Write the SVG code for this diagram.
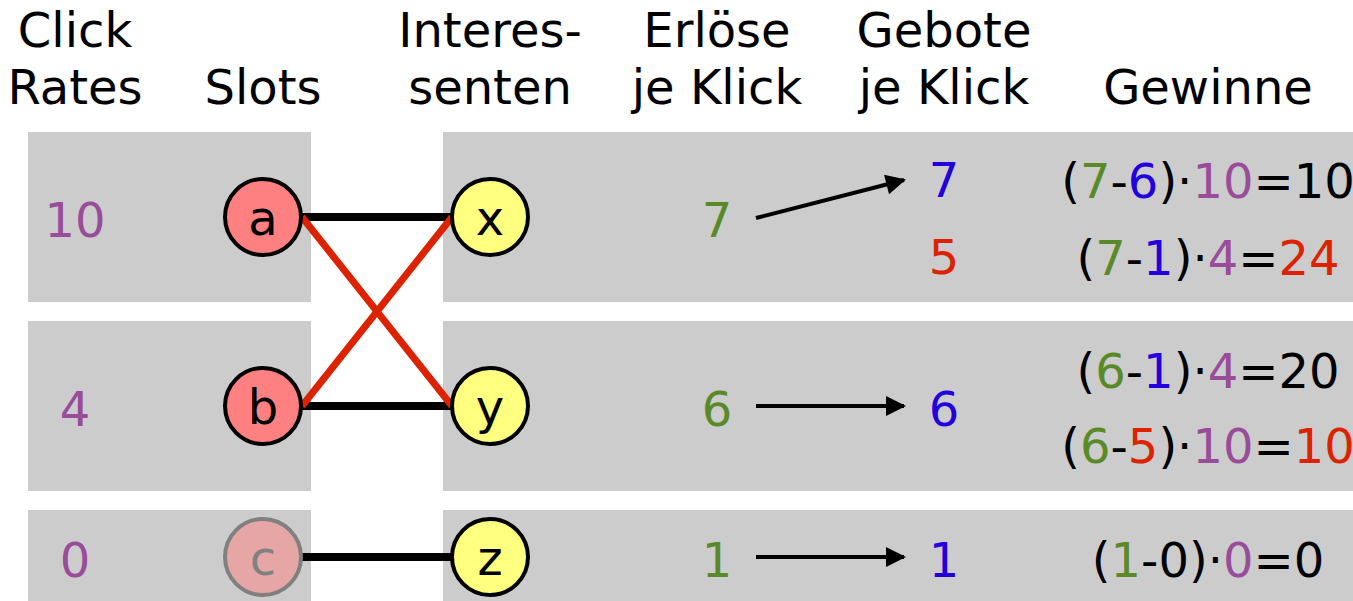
<svg xmlns="http://www.w3.org/2000/svg" width="1353" height="601" viewBox="0 0 1353 601">
<style>
text{font-family:"DejaVu Sans","Liberation Sans",sans-serif;font-size:48px;text-anchor:middle}
.bg{fill:#cccccc}
.pu{fill:#994c99}.gr{fill:#5a8a28}.bl{fill:#2200dd}.rd{fill:#dd2200}.bk{fill:#000}
.slot{fill:#ff8080;stroke:#000;stroke-width:4}
.bid{fill:#ffff80;stroke:#000;stroke-width:4}
.e{stroke:#000;stroke-width:8;fill:none}
.x{stroke:#dd2200;stroke-width:7;fill:none}
.ar{stroke:#000;stroke-width:4;fill:none;marker-end:url(#ah)}
</style>
<defs>
<marker id="ah" viewBox="0 0 10 10" refX="9" refY="5" markerWidth="6" markerHeight="5" markerUnits="strokeWidth" orient="auto">
<path d="M0,0 L10,5 L0,10 z" fill="#000"/>
</marker>
</defs>
<g id="background">
<rect class="bg" x="28" y="132" width="283" height="170"/>
<rect class="bg" x="28" y="321" width="283" height="170"/>
<rect class="bg" x="28" y="510" width="283" height="91"/>
<rect class="bg" x="443" y="132" width="910" height="170"/>
<rect class="bg" x="443" y="321" width="910" height="170"/>
<rect class="bg" x="443" y="510" width="910" height="91"/>
</g>
<g id="headers">
<text x="75" y="47">Click</text><text x="75" y="104">Rates</text>
<text x="263" y="104">Slots</text>
<text x="490" y="47">Interes-</text><text x="490" y="104">senten</text>
<text x="717" y="47">Erlöse</text><text x="717" y="104">je Klick</text>
<text x="944" y="47">Gebote</text><text x="944" y="104">je Klick</text>
<text x="1208" y="104">Gewinne</text>
</g>
<g id="connectors">
<line class="e" x1="300" y1="217" x2="454" y2="217"/>
<line class="e" x1="300" y1="406" x2="454" y2="406"/>
<line class="e" x1="300" y1="557" x2="454" y2="557"/>
<line class="x" x1="302" y1="217" x2="452" y2="406"/>
<line class="x" x1="302" y1="406" x2="452" y2="217"/>
<line class="ar" x1="756" y1="218" x2="904" y2="180"/>
<line class="ar" x1="756" y1="406" x2="904" y2="406"/>
<line class="ar" x1="756" y1="557" x2="904" y2="557"/>
</g>
<g id="rates">
<text class="pu" x="75" y="237">10</text>
<text class="pu" x="75" y="426">4</text>
<text class="pu" x="75" y="577">0</text>
</g>
<g id="node-a"><circle class="slot" cx="263" cy="217" r="38"/><text x="263" y="235">a</text></g>
<g id="node-b"><circle class="slot" cx="263" cy="406" r="38"/><text x="263" y="424">b</text></g>
<g id="node-c"><circle cx="263" cy="557" r="38" fill="#e6a6a6" stroke="#808080" stroke-width="4"/><text x="263" y="575" fill="#808080">c</text></g>
<g id="node-x"><circle class="bid" cx="490" cy="217" r="38"/><text x="490" y="235">x</text></g>
<g id="node-y"><circle class="bid" cx="490" cy="406" r="38"/><text x="490" y="424">y</text></g>
<g id="node-z"><circle class="bid" cx="490" cy="557" r="38"/><text x="490" y="575">z</text></g>
<g id="revenues">
<text class="gr" x="717" y="237">7</text>
<text class="gr" x="717" y="426">6</text>
<text class="gr" x="717" y="577">1</text>
</g>
<g id="bids">
<text class="bl" x="944" y="197">7</text>
<text class="rd" x="944" y="274">5</text>
<text class="bl" x="944" y="426">6</text>
<text class="bl" x="944" y="577">1</text>
</g>
<g id="profits">
<text x="1208" y="198">(<tspan class="gr">7</tspan>-<tspan class="bl">6</tspan>)·<tspan class="pu">10</tspan>=10</text>
<text x="1208" y="275">(<tspan class="gr">7</tspan>-<tspan class="bl">1</tspan>)·<tspan class="pu">4</tspan>=<tspan class="rd">24</tspan></text>
<text x="1208" y="388">(<tspan class="gr">6</tspan>-<tspan class="bl">1</tspan>)·<tspan class="pu">4</tspan>=20</text>
<text x="1208" y="463">(<tspan class="gr">6</tspan>-<tspan class="rd">5</tspan>)·<tspan class="pu">10</tspan>=<tspan class="rd">10</tspan></text>
<text x="1208" y="577">(<tspan class="gr">1</tspan>-0)·<tspan class="pu">0</tspan>=0</text>
</g>
</svg>
